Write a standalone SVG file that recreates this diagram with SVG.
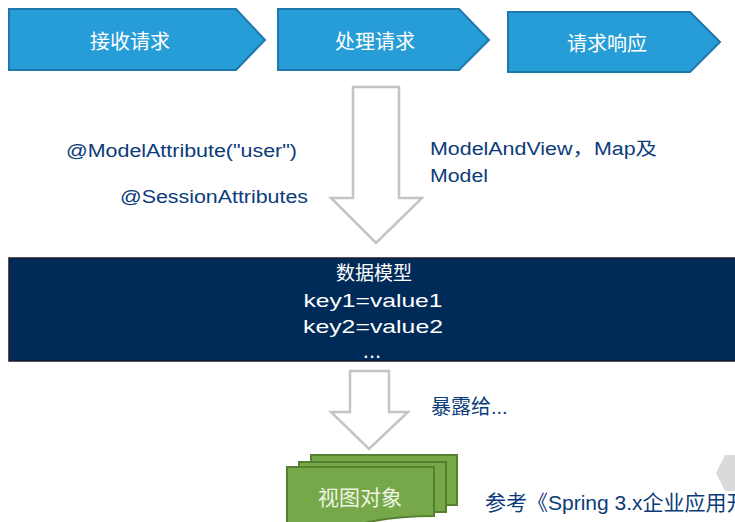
<svg xmlns="http://www.w3.org/2000/svg" width="735" height="522" viewBox="0 0 735 522">
<style>
.chev{fill:#279dd8;stroke:#1f78ad;stroke-width:2}
.cw{fill:#ffffff;font-family:"Noto Sans CJK SC",sans-serif;font-size:20px;text-anchor:middle}
.blue{fill:#0c3b7a;font-family:"Liberation Sans","Noto Sans CJK SC",sans-serif;font-size:18px}
.hollow{fill:#ffffff;stroke:#c4c4c4;stroke-width:2.5;stroke-linejoin:miter}
.sheet{fill:#76a84a;stroke:#55802f;stroke-width:2}
.wt{fill:#ffffff;font-family:"Liberation Sans",sans-serif;font-size:19px;text-anchor:middle}
</style>
<rect width="735" height="522" fill="#ffffff"/>
<g id="stage-receive">
<path class="chev" d="M9,9 H236 L265,40 L236,70 H9 Z"/>
<text class="cw" x="130" y="49">接收请求</text>
</g>
<g id="stage-process">
<path class="chev" d="M278,9 H459 L489,40 L459,70 H278 Z"/>
<text class="cw" x="375" y="49">处理请求</text>
</g>
<g id="stage-respond">
<path class="chev" d="M508,12 H690 L720,42 L690,72 H508 Z"/>
<text class="cw" x="607" y="51">请求响应</text>
</g>
<g id="labels">
<text class="blue" x="66" y="157" textLength="231" lengthAdjust="spacingAndGlyphs">@ModelAttribute("user")</text>
<text class="blue" x="120" y="203" textLength="188" lengthAdjust="spacingAndGlyphs">@SessionAttributes</text>
<text class="blue" x="430" y="155" textLength="227" lengthAdjust="spacingAndGlyphs">ModelAndView，Map及</text>
<text class="blue" x="430" y="182" textLength="58" lengthAdjust="spacingAndGlyphs">Model</text>
</g>
<g id="connectors">
<polygon class="hollow" points="353,87 399,87 399,198 422,198 376,243 331,198 353,198"/>
<polygon class="hollow" points="350,371 389,371 389,412 408,412 369,449 331,412 350,412"/>
</g>
<g id="data-model">
<rect x="9" y="258" width="740" height="103" fill="#002a58" stroke="#1a1a2a" stroke-width="1.5"/>
<text class="cw" x="374" y="280" style="font-size:19px">数据模型</text>
<text class="wt" x="373" y="307" textLength="139" lengthAdjust="spacingAndGlyphs">key1=value1</text>
<text class="wt" x="373" y="333" textLength="140" lengthAdjust="spacingAndGlyphs">key2=value2</text>
<text class="wt" x="372" y="358" style="font-size:22px">...</text>
</g>
<g id="expose-label">
<text class="blue" x="431" y="414" style="font-size:20px">暴露给...</text>
</g>
<g id="view-object">
<rect class="sheet" x="311" y="455" width="146" height="50"/>
<rect class="sheet" x="299" y="462" width="147" height="50"/>
<path class="sheet" d="M287,467 H434 V516 Q392,516 360,524 H287 Z"/>
<text class="cw" x="360" y="505" style="fill:#eef5e4;font-size:21px">视图对象</text>
</g>
<g id="reference">
<polygon points="716,473 725,455 745,455 745,491 725,491" fill="#dadada"/>
<text x="485" y="510" style="fill:#0c3b7a;font-family:'Liberation Sans','Noto Sans CJK SC',sans-serif;font-size:21px">参考《Spring 3.x企业应用开</text>
</g>
</svg>
